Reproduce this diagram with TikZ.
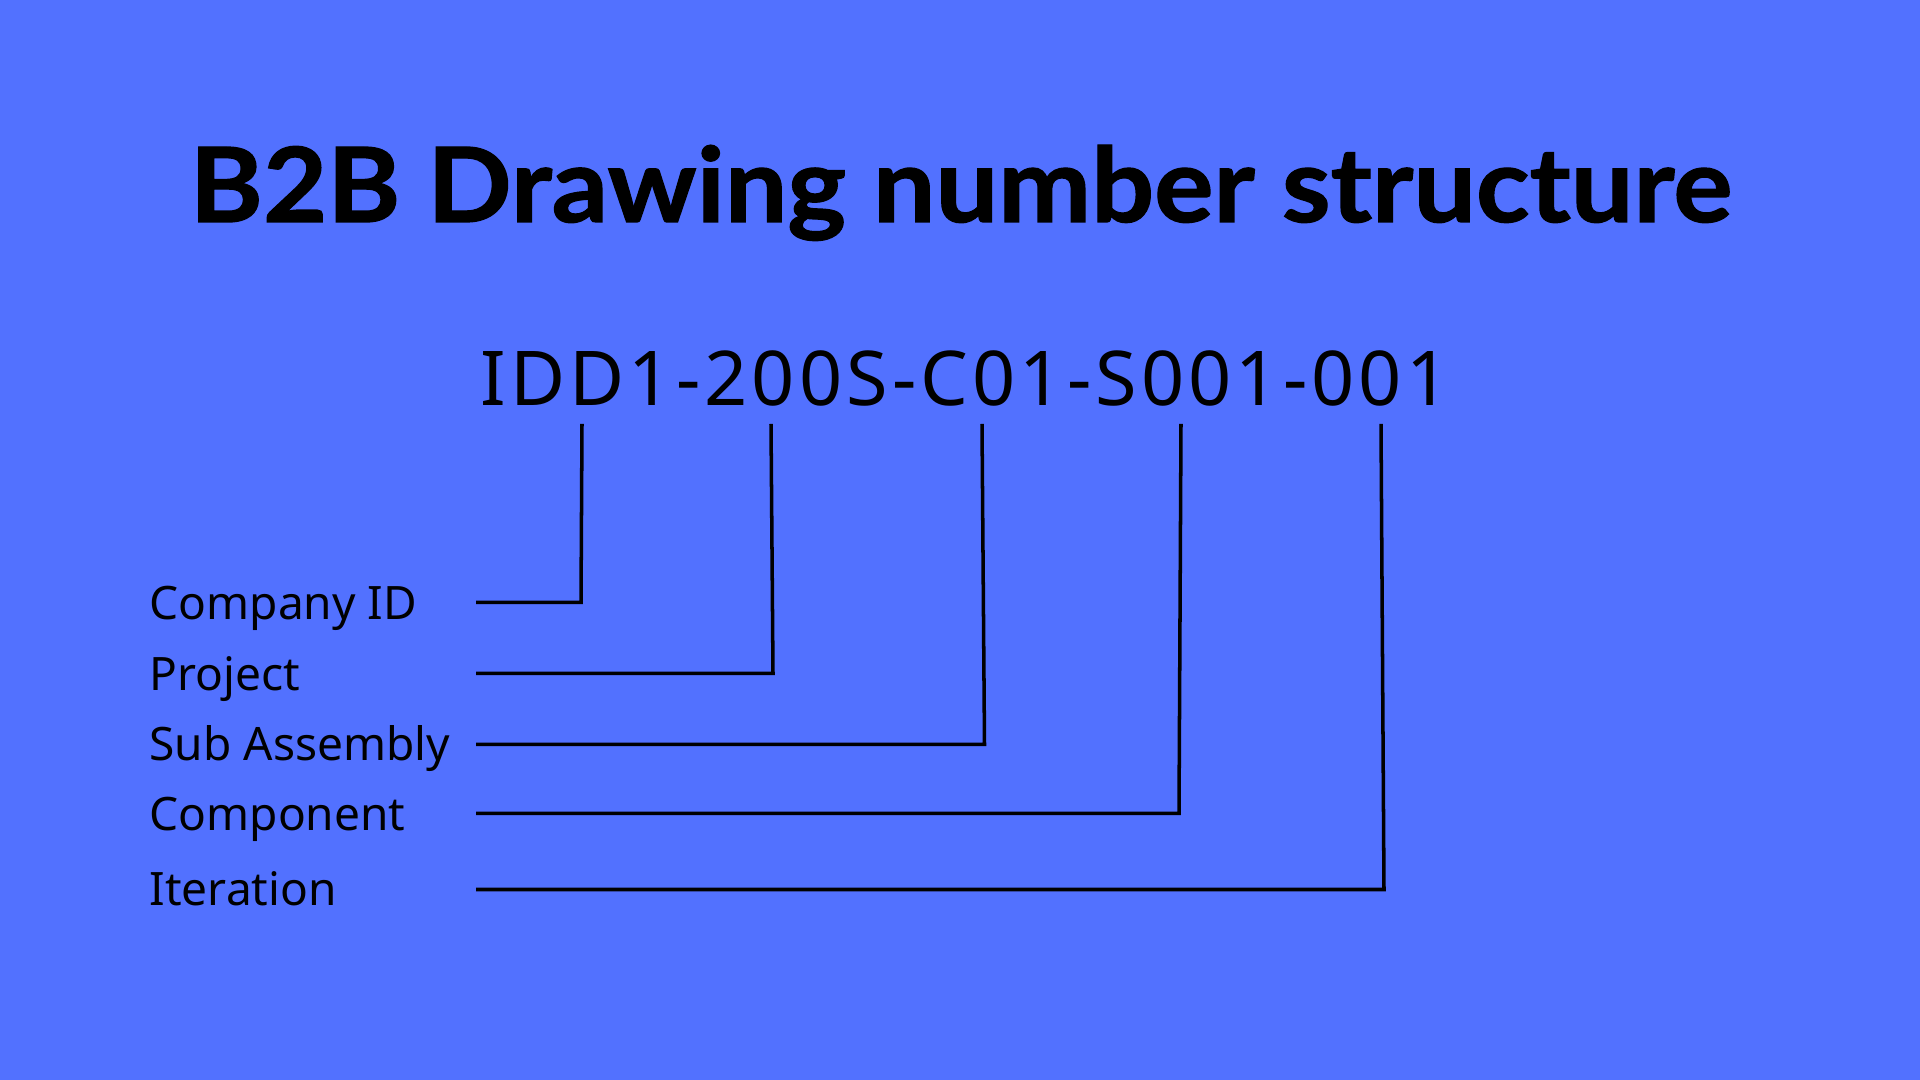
\documentclass[tikz,border=0pt]{standalone}
\usepackage{fontspec}
\setmainfont{Noto Sans}
\newfontfamily\titlefont[FakeStretch=1.07, FakeBold=1.2]{Lato}
\newfontfamily\numberfont[LetterSpace=5.4]{Noto Sans}
\usetikzlibrary{positioning}
\definecolor{canvablue}{HTML}{5271FF}
\tikzset{
	heading/.style={font=\titlefont\bfseries\fontsize{29.5}{32}\selectfont, inner sep=0pt, anchor=base},
	partno/.style={font=\numberfont\fontsize{21.5}{24}\selectfont, inner sep=0pt, anchor=base},
	partname/.style={font=\fontsize{13.1}{15}\selectfont, inner sep=0pt, anchor=base west},
	leader/.style={line width=1pt, black},
}
\begin{document}
\begin{tikzpicture}[x=0.01cm, y=-0.01cm]
	% background
	\fill[canvablue] (0, 0) rectangle (1920, 1080);
	\useasboundingbox (0, 0) rectangle (1920, 1080);
	% title and number
	\node[heading] (title) at (961, 222) {B2B Drawing number structure};
	\node[partno] (number) at (965, 406) {IDD1-200S-C01-S001-001};
	% names of the parts
	\node[partname] (company) at (149, 620) {Company ID};
	\node[partname] (project) at (149, 691) {Project};
	\node[partname] (subassy) at (149, 761) {Sub Assembly};
	\node[partname] (component) at (149, 831) {Component};
	\node[partname] (iteration) at (149, 906) {Iteration};
	% leader ends
	\path
	(582, 424) coordinate (company top)
	(581, 602.5) coordinate (company bend)
	(476, 602.5) coordinate (company end)
	(771, 424) coordinate (project top)
	(773, 673.5) coordinate (project bend)
	(476, 673.5) coordinate (project end)
	(982, 424) coordinate (subassy top)
	(984.5, 744.5) coordinate (subassy bend)
	(476, 744.5) coordinate (subassy end)
	(1181, 424) coordinate (component top)
	(1179, 813.5) coordinate (component bend)
	(476, 813.5) coordinate (component end)
	(1381, 424) coordinate (iteration top)
	(1384, 889.5) coordinate (iteration bend)
	(476, 889.5) coordinate (iteration end)
	;
	% leaders
	\draw[leader] (company top) -- (company bend) -- (company end);
	\draw[leader] (project top) -- (project bend) -- (project end);
	\draw[leader] (subassy top) -- (subassy bend) -- (subassy end);
	\draw[leader] (component top) -- (component bend) -- (component end);
	\draw[leader] (iteration top) -- (iteration bend) -- (iteration end);
\end{tikzpicture}
\end{document}
